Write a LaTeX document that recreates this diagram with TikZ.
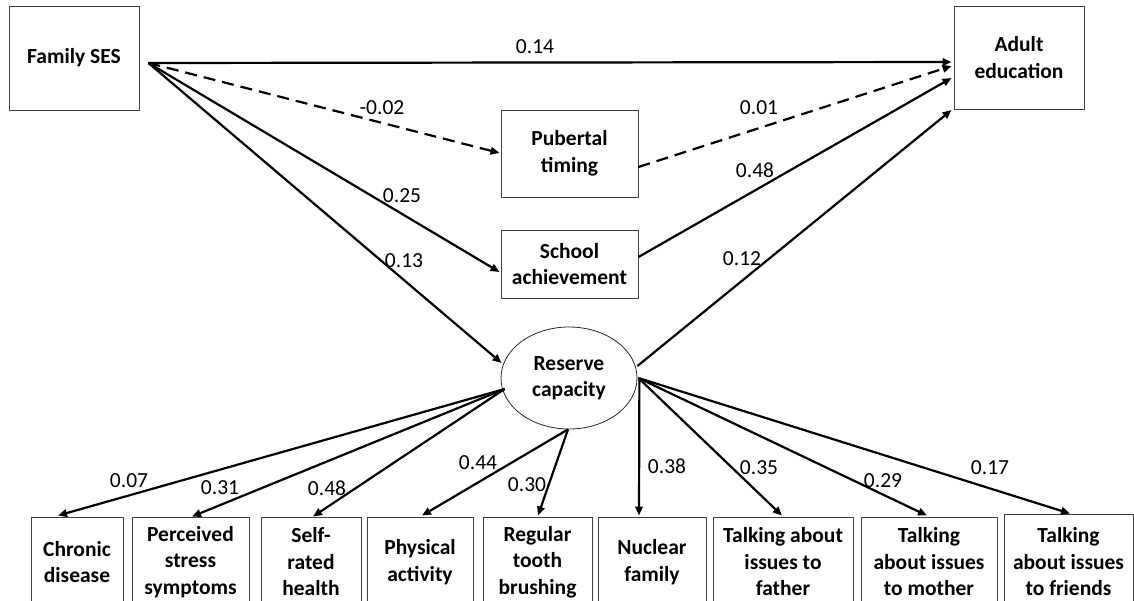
\documentclass[tikz,border=0pt]{standalone}
\usepackage{fontspec}
\setmainfont{Carlito}
\usetikzlibrary{arrows.meta,shapes.geometric}
\begin{document}
\begin{tikzpicture}[x=1pt,y=-1pt,
  box/.style={draw=black!75,line width=0.9pt,rectangle,align=center,
    font=\bfseries\fontsize{21.5}{26.5}\selectfont,inner sep=0pt},
  sbox/.style={box,minimum height=90pt},
  arr/.style={line width=2.2pt,-{Triangle[length=9pt,width=7.5pt]}},
  darr/.style={arr,dash pattern=on 12pt off 7pt},
  lbl/.style={font=\fontsize{21.5}{26.5}\selectfont,inner sep=0pt}]
\useasboundingbox (0,0) rectangle (1134,600);
\clip (0,0) rectangle (1134,600);

% main nodes
\node[box,minimum width=130pt,minimum height=104pt] (ses) at (74,58) {Family SES};
\node[box,minimum width=130pt,minimum height=103pt] (adult) at (1019,57.5) {Adult\\education};
\node[box,minimum width=137pt,minimum height=87pt] (pub) at (569.5,153.5) {Pubertal\\timing};
\node[box,minimum width=137pt,minimum height=68pt] (school) at (569.5,264) {School\\achievement};
\node[draw=black!85,line width=0.8pt,ellipse,minimum width=136pt,minimum height=102pt,
  inner sep=0pt,align=center,font=\bfseries\fontsize{21.5}{26.5}\selectfont] (rc) at (569,378) {Reserve\\capacity};

% indicator boxes
\node[sbox,minimum width=92pt] (chronic) at (77,562) {Chronic\\disease};
\node[sbox,minimum width=117pt] (stress) at (190.5,562) {Perceived\\stress\\symptoms};
\node[sbox,minimum width=100pt] (self) at (311,562) {Self-\\rated\\health};
\node[sbox,minimum width=106pt] (phys) at (420,562) {Physical\\activity};
\node[sbox,minimum width=109pt] (tooth) at (537.5,562) {Regular\\tooth\\brushing};
\node[sbox,minimum width=108pt] (nuc) at (652,562) {Nuclear\\family};
\node[sbox,minimum width=140pt] (father) at (783,562) {Talking about\\issues to\\father};
\node[sbox,minimum width=136pt] (mother) at (929,562) {Talking\\about issues\\to mother};
\node[box,minimum width=129pt,minimum height=96pt] (friends) at (1068.5,562) {Talking\\about issues\\to friends};

% structural paths
\draw[arr] ([shift={(9,5)}]ses.east) -- ([shift={(-2,4.5)}]adult.west);
\draw[darr] ([shift={(9,5)}]ses.east) -- ([shift={(-1,-0.5)}]pub.west);
\draw[arr] ([shift={(9,5)}]ses.east) -- ([shift={(-1,8)}]school.west);
\draw[arr] ([shift={(9,5)}]ses.east) -- ([shift={(1,-15)}]rc.west);
\draw[darr] ([shift={(0,13.5)}]pub.east) -- ([shift={(-2,8.5)}]adult.west);
\draw[arr] ([shift={(0,-7)}]school.east) -- ([shift={(-2,20.5)}]adult.west);
\draw[arr] ([shift={(0,-12)}]rc.east) -- ([shift={(-2,52.5)}]adult.west);

% measurement paths
\draw[arr] ([shift={(4,11)}]rc.west) -- ([shift={(-19,-1)}]chronic.north);
\draw[arr] ([shift={(4,11)}]rc.west) -- ([shift={(1.5,0)}]stress.north);
\draw[arr] ([shift={(4,11)}]rc.west) -- ([shift={(2,0)}]self.north);
\draw[arr] ([shift={(-1,0)}]rc.south) -- ([shift={(2,-1)}]phys.north);
\draw[arr] ([shift={(-1,0)}]rc.south) -- ([shift={(0.5,-1)}]tooth.north);
\draw[arr] ([shift={(2,2)}]rc.east) -- ([shift={(-13,-1)}]nuc.north);
\draw[arr] ([shift={(1,0)}]rc.east) -- ([shift={(-1,-1)}]father.north);
\draw[arr] ([shift={(1,0)}]rc.east) -- ([shift={(-2,-1)}]mother.north);
\draw[arr] ([shift={(1,0)}]rc.east) -- ([shift={(1.5,0)}]friends.north);

% coefficients
\node[lbl] (l1) at (535,46.5) {0.14};
\node[lbl] (l2) at (382,108) {-0.02};
\node[lbl] (l3) at (402,196) {0.25};
\node[lbl] (l4) at (404,261) {0.13};
\node[lbl] (l5) at (759,108) {0.01};
\node[lbl] (l6) at (755,170) {0.48};
\node[lbl] (l7) at (742,259) {0.12};
\node[lbl] (l8) at (129,481) {0.07};
\node[lbl] (l9) at (220,488) {0.31};
\node[lbl] (l10) at (327,488) {0.48};
\node[lbl] (l11) at (478,463) {0.44};
\node[lbl] (l12) at (527,485) {0.30};
\node[lbl] (l13) at (667,466) {0.38};
\node[lbl] (l14) at (759,468) {0.35};
\node[lbl] (l15) at (883,481) {0.29};
\node[lbl] (l16) at (990,468) {0.17};
\end{tikzpicture}
\end{document}
